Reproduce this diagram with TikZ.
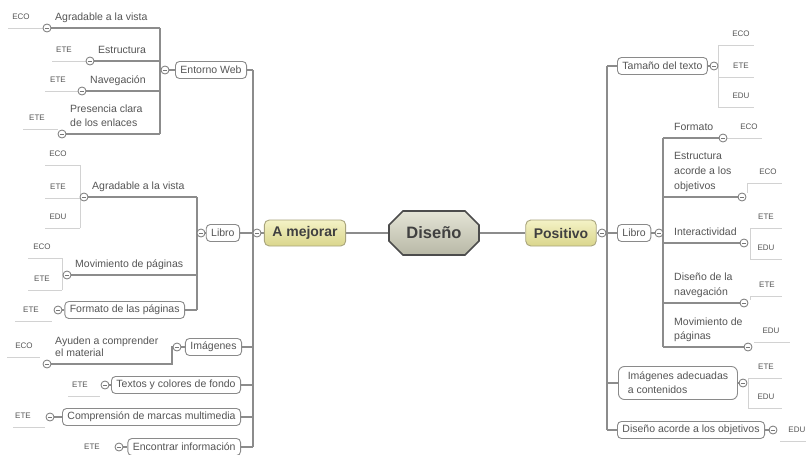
\documentclass[tikz,border=0pt]{standalone}
\usepackage{fontspec}
\setmainfont{Liberation Sans}
\usetikzlibrary{shapes.misc}
\definecolor{tc}{HTML}{555555}
\definecolor{lc}{HTML}{8C8C8C}
\definecolor{llc}{HTML}{D2D2D2}
\definecolor{bc}{HTML}{8A8A8A}
\definecolor{tgc}{HTML}{777777}
\definecolor{ytop}{HTML}{F4F2C6}
\definecolor{ybot}{HTML}{DAD68C}
\definecolor{ybd}{HTML}{A8A47C}
\definecolor{rtop}{HTML}{E4E4D6}
\definecolor{rbot}{HTML}{B8B8A6}
\definecolor{rbd}{HTML}{4C4C4C}
\pgfdeclarelayer{bg}
\pgfdeclarelayer{paper}
\pgfsetlayers{paper,bg,main}
\newcommand\mtag[6]{%
  \coordinate (#1a) at (#2,#4);
  \coordinate (#1b) at (#3,#4);
  \node[lbl] (#1) at (#5,#4-11) {#6};
  \begin{pgfonlayer}{bg}\draw[lline] (#1a) -- (#1b);\end{pgfonlayer}}
\begin{document}
\begin{tikzpicture}[x=1pt,y=-1pt,
  txt/.style={font=\fontsize{10.5}{14}\selectfont, text=tc, inner sep=1pt, align=left, text depth=2.5pt, anchor=south west},
  lbl/.style={font=\fontsize{8}{9}\selectfont, text=tc, inner sep=0pt},
  box/.style={draw=bc, line width=0.9pt, rounded corners=4pt, fill=white, font=\fontsize{10.5}{14}\selectfont, text=tc, inner xsep=5pt, inner ysep=1pt, minimum height=17pt, align=left},
  lvl/.style={draw=ybd, line width=0.9pt, rounded corners=5pt, top color=ytop, bottom color=ybot, font=\fontsize{14}{16}\bfseries, text=black!75, inner xsep=8pt, minimum height=26pt},
  root/.style={chamfered rectangle, chamfered rectangle xsep=8pt, chamfered rectangle ysep=8pt, draw=rbd, line width=1.6pt, top color=rtop, bottom color=rbot, font=\fontsize{16.5}{18}\bfseries, text=black!75, minimum width=90pt, minimum height=44pt, inner sep=0pt},
  conn/.style={draw=lc, line width=1.3pt},
  lline/.style={draw=llc, line width=0.8pt},
  tog/.style={circle, draw=tgc, fill=white, line width=0.8pt, minimum size=8pt, inner sep=0pt,
    path picture={\draw[tgc, line width=0.8pt] ([xshift=-2.2pt]path picture bounding box.center) -- ([xshift=2.2pt]path picture bounding box.center);}}
]
\useasboundingbox (0,0) rectangle (806,455);
\begin{pgfonlayer}{paper}
\fill[white] (0,0) rectangle (806,455);
\end{pgfonlayer}

% ---------- centre ----------
\node[root] (dis) at (434,233) {Diseño};
\node[lvl] (mej) at (305,233) {A mejorar};
\node[lvl] (pos) at (561,233) {Positivo};

% ---------- left spine ----------
\node[tog] (tmej) at (257,233) {};
\coordinate (L1) at (253,70);
\coordinate (L2) at (253,447);

% Entorno Web
\node[box, anchor=east] (ew) at (247,70) {Entorno Web};
\node[tog] (tew) at (165,70) {};
\coordinate (ewT) at (160,28);
\coordinate (ewB) at (160,134);
\node[tog] (ta1) at (47,28) {};
\node[txt] (na1) at (54,24.5) {Agradable a la vista};
\mtag{ea1}{8}{43}{28}{21}{ECO}
\node[tog] (ta2) at (90,61) {};
\node[txt] (na2) at (97,57.5) {Estructura};
\mtag{ea2}{52}{86}{61}{64}{ETE}
\node[tog] (ta3) at (82,91) {};
\node[txt] (na3) at (89,87.5) {Navegación};
\mtag{ea3}{45}{78}{91}{58}{ETE}
\node[tog] (ta4) at (62,134) {};
\node[txt] (na4) at (69,130.5) {Presencia clara\\de los enlaces};
\mtag{ea4}{23}{58}{129}{37}{ETE}

% Libro (left)
\node[box, anchor=east] (lb) at (240,233) {Libro};
\node[tog] (tlb) at (201,233) {};
\coordinate (lbT) at (197,197);
\coordinate (lbB) at (197,310);
\node[tog] (tb1) at (84,197) {};
\node[txt] (nb1) at (91,193.5) {Agradable a la vista};
\mtag{eb1}{45}{80}{165}{58}{ECO}
\mtag{eb2}{45}{80}{198}{58}{ETE}
\mtag{eb3}{45}{80}{228}{58}{EDU}
\node[tog] (tb2) at (67,275) {};
\node[txt] (nb2) at (74,271.5) {Movimiento de páginas};
\mtag{eb4}{28}{62}{258}{42}{ECO}
\mtag{eb5}{28}{62}{290}{42}{ETE}
\node[box, anchor=east] (fp) at (185,310) {Formato de las páginas};
\node[tog] (tfp) at (58,310) {};
\mtag{eb6}{15}{52}{321}{31}{ETE}

% Imágenes
\node[box, anchor=east] (img) at (242,347) {Imágenes};
\node[tog] (timg) at (177,347) {};
\node[tog] (tc1) at (47,364) {};
\coordinate (c1k) at (172,364);
\node[txt, font=\fontsize{10.5}{12}\selectfont] (nc1) at (54,360.5) {Ayuden a comprender\\el material};
\mtag{ec1}{7}{40}{357}{24}{ECO}

% Textos y colores de fondo
\node[box, anchor=east] (tx) at (241,385) {Textos y colores de fondo};
\node[tog] (ttx) at (105,385) {};
\mtag{ed1}{68}{100}{396}{80}{ETE}

% Comprensión de marcas multimedia
\node[box, anchor=east] (cm) at (241,417) {Comprensión de marcas multimedia};
\node[tog] (tcm) at (50,417) {};
\mtag{ee1}{13}{45}{427}{23}{ETE}

% Encontrar información
\node[box, anchor=east] (ei) at (241,447) {Encontrar información};
\node[tog] (tei) at (119,447) {};
\mtag{ef1}{78}{112}{458}{92}{ETE}

% ---------- right spine ----------
\node[tog] (tpos) at (602,233) {};
\coordinate (R1) at (607,66);
\coordinate (R2) at (607,430);

% Tamaño del texto
\node[box, anchor=west] (tam) at (617,66) {Tamaño del texto};
\node[tog] (ttam) at (714,66) {};
\mtag{er1}{718}{754}{45}{741}{ECO}
\mtag{er2}{718}{754}{77}{741}{ETE}
\mtag{er3}{718}{754}{107}{741}{EDU}

% Libro (right)
\node[box, anchor=west] (lr) at (617,233) {Libro};
\node[tog] (tlr) at (659,233) {};
\coordinate (lrT) at (663,138);
\coordinate (lrB) at (663,347);
\node[tog] (tr1) at (723,138) {};
\node[txt] (nr1) at (673,134.5) {Formato};
\mtag{es1}{727}{762}{138}{749}{ECO}
\node[tog] (tr2) at (742,197) {};
\node[txt, font=\fontsize{10.5}{15}\selectfont] (nr2) at (673,193.5) {Estructura\\acorde a los\\objetivos};
\mtag{es2}{747}{782}{183}{768}{ECO}
\coordinate (es2c) at (747,193);
\node[tog] (tr3) at (744,243) {};
\node[txt] (nr3) at (673,239.5) {Interactividad};
\mtag{es3}{750}{782}{228}{766}{ETE}
\mtag{es4}{750}{782}{259}{766}{EDU}
\node[tog] (tr4) at (744,303) {};
\node[txt, font=\fontsize{10.5}{15.5}\selectfont] (nr4) at (673,299.5) {Diseño de la\\navegación};
\mtag{es5}{750}{782}{296}{767}{ETE}
\coordinate (es5c) at (750,300);
\node[tog] (tr5) at (748,347) {};
\node[txt] (nr5) at (673,343.5) {Movimiento de\\páginas};
\mtag{es6}{754}{790}{342}{771}{EDU}

% Imágenes adecuadas a contenidos
\node[box, anchor=west, rounded corners=6pt, minimum width=119pt, minimum height=33pt] (ia) at (618,383) {Imágenes adecuadas\\a contenidos};
\node[tog] (tia) at (743,383) {};
\mtag{et1}{748}{782}{378}{766}{ETE}
\mtag{et2}{748}{782}{408}{766}{EDU}

% Diseño acorde a los objetivos
\node[box, anchor=west] (da) at (617,430) {Diseño acorde a los objetivos};
\node[tog] (tda) at (773,430) {};
\coordinate (eu1a) at (780,441);
\coordinate (eu1b) at (806,441);
\node[lbl, anchor=east] (eu1) at (805.5,430) {EDU};

% ---------- connectors ----------
\begin{pgfonlayer}{bg}
\draw[conn] (mej.east) -- (dis.west);
\draw[conn] (dis.east) -- (pos.west);
% left
\draw[conn] (mej.west) -- (tmej.east);
\draw[conn] (L1) -- (L2);
\draw[conn] (ew.east) -- (ew.east -| L1);
\draw[conn] (tew.east) -- (ew.west);
\draw[conn] (ewT) -- (ewB);
\draw[conn] (ta1.east) -- (ewT);
\draw[conn] (ta2.east) -- (ta2 -| ewT);
\draw[conn] (ta3.east) -- (ta3 -| ewT);
\draw[conn] (ta4.east) -- (ewB);
\draw[conn] (lb.east) -- (lb.east -| L1);
\draw[conn] (tlb.east) -- (lb.west);
\draw[conn] (lbT) -- (lbB);
\draw[conn] (tb1.east) -- (lbT);
\draw[conn] (tb2.east) -- (tb2 -| lbT);
\draw[conn] (fp.east) -- (fp.east -| lbT);
\draw[conn] (tfp.east) -- (fp.west);
\draw[lline] (eb1b) -- (eb3b);
\draw[lline] (eb4b) -- (eb5b);
\draw[conn] (img.east) -- (img.east -| L1);
\draw[conn] (timg.east) -- (img.west);
\draw[conn] (tc1.east) -- (c1k) |- (timg.west);
\draw[conn] (tx.east) -- (tx.east -| L1);
\draw[conn] (ttx.east) -- (tx.west);
\draw[conn] (cm.east) -- (cm.east -| L1);
\draw[conn] (tcm.east) -- (cm.west);
\draw[conn] (ei.east) -- (L2);
\draw[conn] (tei.east) -- (ei.west);
% right
\draw[conn] (pos.east) -- (tpos.west);
\draw[conn] (tpos.east) -- (tpos.east -| R1);
\draw[conn] (R1) -- (R2);
\draw[conn] (R1) -- (tam.west);
\draw[conn] (tam.east) -- (ttam.west);
\draw[lline] (er1a) -- (er3a);
\draw[conn] (lr.west -| R1) -- (lr.west);
\draw[conn] (lr.east) -- (tlr.west);
\draw[conn] (lrT) -- (lrB);
\draw[conn] (lrT) -- (tr1.west);
\draw[conn] (tr2 -| lrT) -- (tr2.west);
\draw[conn] (tr3 -| lrT) -- (tr3.west);
\draw[conn] (tr4 -| lrT) -- (tr4.west);
\draw[conn] (lrB) -- (tr5.west);
\draw[lline] (es2a) -- (es2c);
\draw[lline] (es3a) -- (es4a);
\draw[lline] (es5a) -- (es5c);
\draw[conn] (ia.west -| R1) -- (ia.west);
\draw[conn] (ia.east) -- (tia.west);
\draw[lline] (et1a) -- (et2a);
\draw[conn] (R2) -- (da.west);
\draw[conn] (da.east) -- (tda.west);
\draw[lline] (eu1a) -- (eu1b);
\end{pgfonlayer}
\end{tikzpicture}
\end{document}
